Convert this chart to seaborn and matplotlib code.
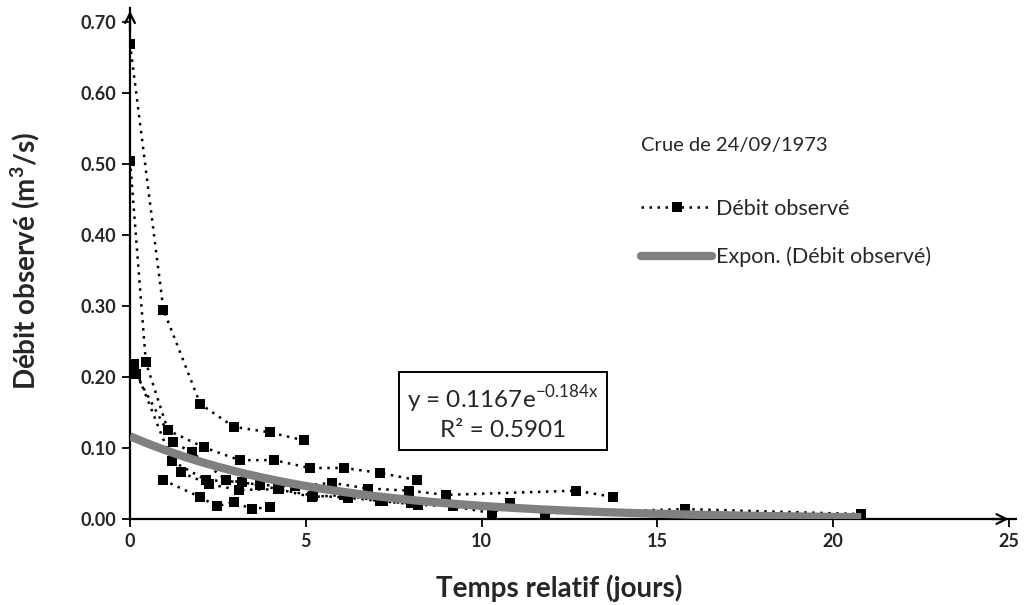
import numpy as np
import pandas as pd
import matplotlib
matplotlib.use("Agg")
import matplotlib.pyplot as plt
from matplotlib.lines import Line2D
import seaborn as sns

# ---- data ----
seg_a_x = [0.0, 0.95, 2.0, 2.95, 3.98, 4.94]
seg_a_y = [0.670, 0.295, 0.162, 0.130, 0.122, 0.111]
seg_b_x = [0.0, 0.45, 1.08, 2.10, 3.12, 4.09, 5.11, 6.08, 7.10, 8.15]
seg_b_y = [0.505, 0.221, 0.125, 0.101, 0.083, 0.083, 0.072, 0.072, 0.065, 0.055]
seg_c_x = [0.10, 1.19, 2.16, 3.18, 4.23, 5.17, 6.10, 7.10, 8.00]
seg_c_y = [0.218, 0.082, 0.055, 0.052, 0.042, 0.031, 0.034, 0.025, 0.022]
seg_d_x = [0.17, 1.23, 1.76, 2.73, 3.70, 4.70, 5.74, 6.76, 7.95, 8.98, 12.70, 13.75]
seg_d_y = [0.204, 0.108, 0.094, 0.055, 0.048, 0.046, 0.051, 0.043, 0.040, 0.034, 0.040, 0.031]
seg_e_x = [0.94, 1.99, 2.47, 2.95, 3.47, 3.98]
seg_e_y = [0.055, 0.031, 0.018, 0.024, 0.014, 0.017]
seg_f_x = [1.45, 2.25, 3.10, 4.20, 5.20, 6.20, 7.20, 8.20, 9.20, 10.30, 10.80, 11.80, 15.80, 20.80]
seg_f_y = [0.066, 0.049, 0.041, 0.042, 0.033, 0.030, 0.025, 0.020, 0.018, 0.008, 0.022, 0.008, 0.014, 0.007]

fit_a = 0.1167
fit_b = -0.184
fit_r2 = 0.5901

x_ticks = [0, 5, 10, 15, 20, 25]
y_ticks = [0.0, 0.1, 0.2, 0.3, 0.4, 0.5, 0.6, 0.7]

segments = [(seg_a_x, seg_a_y), (seg_b_x, seg_b_y), (seg_c_x, seg_c_y),
            (seg_d_x, seg_d_y), (seg_e_x, seg_e_y), (seg_f_x, seg_f_y)]
rows = []
for i, (xs, ys) in enumerate(segments):
    for xv, yv in zip(xs, ys):
        rows.append({"seg": i, "t": xv, "q": yv})
df = pd.DataFrame(rows)

all_x = np.array(df["t"])
trend_x = np.linspace(0, all_x.max(), 200)
trend_df = pd.DataFrame({"t": trend_x, "q": fit_a * np.exp(fit_b * trend_x)})

# ---- style ----
sns.set_style("white")
plt.rcParams["font.family"] = ["Lato", "DejaVu Sans"]

fig = plt.figure(figsize=(10.27, 6.05), dpi=100)
ax = fig.add_axes([0.1266, 0.1421, 0.8626, 0.8446])

sns.lineplot(data=df, x="t", y="q", units="seg", estimator=None, sort=False,
             color="black", linestyle=(0, (1, 2.2)), linewidth=1.8,
             marker="s", markersize=7.5, markeredgewidth=0, ax=ax, zorder=3)
sns.lineplot(data=trend_df, x="t", y="q", color="#808080", linewidth=6,
             ax=ax, zorder=4, solid_capstyle="butt")

ax.set_xlim(0, 25.2)
ax.set_ylim(0, 0.72)
ax.set_xticks(x_ticks)
ax.set_yticks(y_ticks)
ax.set_xticklabels([str(v) for v in x_ticks], fontsize=13, fontweight="bold")
ax.set_yticklabels([f"{v:.2f}" for v in y_ticks], fontsize=13, fontweight="bold")
ax.tick_params(axis="both", direction="out", length=6, width=1.3, color="black",
               bottom=True, left=True, pad=4)
ax.set_xlabel("Temps relatif (jours)", fontsize=20, fontweight="bold")
ax.xaxis.set_label_coords(0.485, -0.108)
ax.set_ylabel("Débit observé (m$^\\mathregular{3}$/s)", fontsize=20, fontweight="bold")
ax.yaxis.set_label_coords(-0.099, 0.505)

for s in ["top", "right"]:
    ax.spines[s].set_visible(False)
ax.spines["left"].set_linewidth(1.6)
ax.spines["bottom"].set_linewidth(1.6)
ax.spines["left"].set_color("black")
ax.spines["bottom"].set_color("black")

# axis arrows
ax.annotate("", xy=(0, 1.0), xycoords="axes fraction", xytext=(0, 0.95),
            arrowprops=dict(arrowstyle="->,head_width=0.35,head_length=0.7", lw=1.6, color="black"))
ax.annotate("", xy=(0.995, 0), xycoords="axes fraction", xytext=(0.97, 0),
            arrowprops=dict(arrowstyle="->,head_width=0.35,head_length=0.7", lw=1.6, color="black"))

# legend
handles = [
    Line2D([], [], color="black", linestyle=(0, (1, 2.2)), linewidth=1.8,
           marker="s", markersize=6.5, markeredgewidth=0),
    Line2D([], [], color="#808080", linewidth=6),
]
leg = ax.legend(handles, ["Débit observé", "Expon. (Débit observé)"],
                title="Crue de 24/09/1973", frameon=False, loc="upper left",
                bbox_to_anchor=(0.555, 0.785), fontsize=15.5, title_fontsize=14.5,
                handlelength=3.3, handletextpad=0.2, labelspacing=1.3)
leg._legend_box.align = "left"
leg._legend_box.sep = 32

# equation box
ax.text(0.421, 0.209,
        "y = 0.1167e$^{\\mathregular{-0.184x}}$\nR² = 0.5901",
        transform=ax.transAxes, ha="center", va="center", fontsize=17.5,
        linespacing=1.3, multialignment="center",
        bbox=dict(boxstyle="square,pad=0.35", facecolor="white", edgecolor="black", linewidth=1.4),
        zorder=6)

fig.savefig("out.png", dpi=100)
